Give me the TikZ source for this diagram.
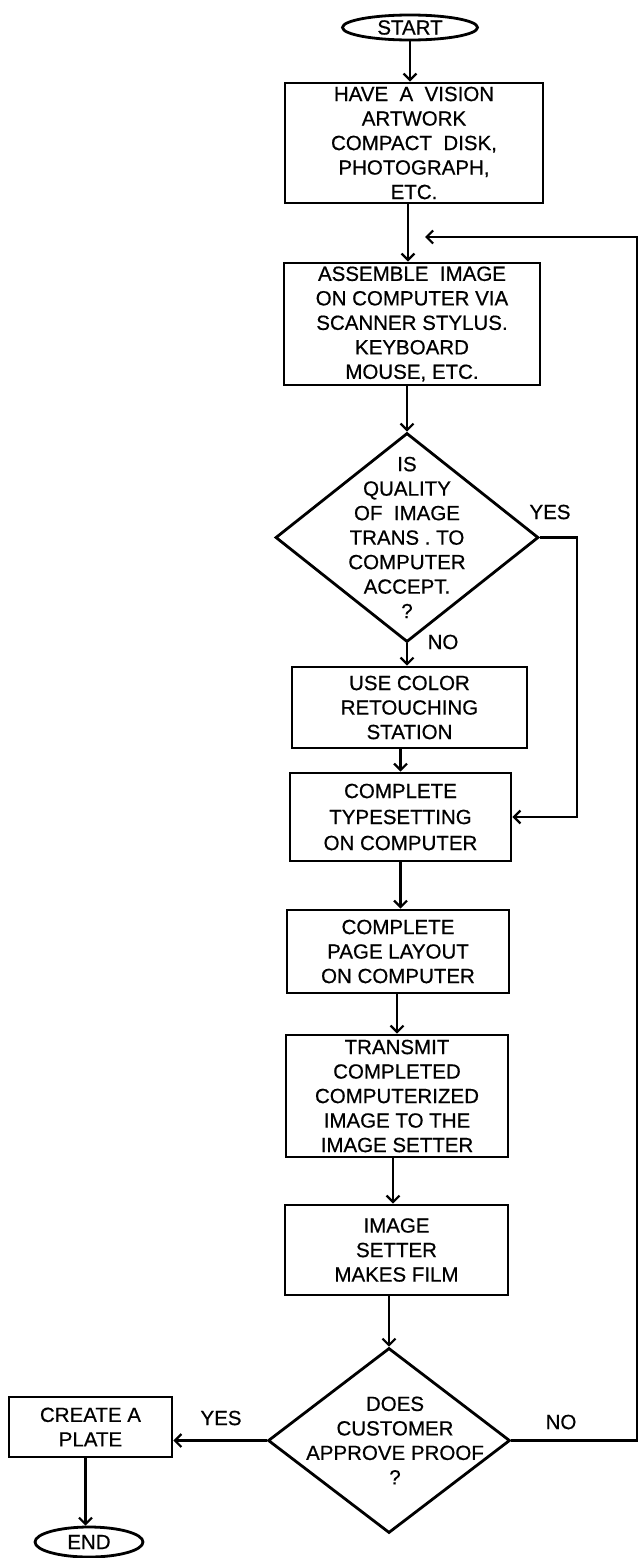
\documentclass[tikz,border=0pt]{standalone}
\usepackage{fontspec}
\setmainfont[FakeBold=0.6]{Liberation Sans}
\usetikzlibrary{shapes.geometric,arrows.meta}
\begin{document}
\begin{tikzpicture}[x=1pt,y=-1pt,
  font=\fontsize{20.5}{24.5}\selectfont,
  box/.style={draw, line width=2.8pt, rectangle, align=center, inner sep=0pt},
  dia/.style={draw, line width=2.8pt, diamond, inner sep=0pt},
  term/.style={draw, line width=2.8pt, ellipse, inner sep=0pt},
  arr/.style={line width=2.2pt, -{Straight Barb[length=6.5pt,width=13pt]}},
  lbl/.style={inner sep=0pt, align=center}]
\useasboundingbox (0,0) rectangle (640,1558);
% terminals
\node[term, minimum width=135pt, minimum height=25pt] (start) at (410,27.5) {START};
\node[term, minimum width=108pt, minimum height=30pt] (end) at (89,1542) {END};
% boxes
\node[box, minimum width=258pt, minimum height=120pt] (b1) at (414,143)
  {HAVE\ \ A\ \ VISION\\ARTWORK\\COMPACT\ \ DISK,\\PHOTOGRAPH,\\ETC.};
\node[box, minimum width=256pt, minimum height=122pt] (b2) at (412,324)
  {ASSEMBLE\ \ IMAGE\\ON COMPUTER VIA\\SCANNER STYLUS.\\KEYBOARD\\MOUSE, ETC.};
\node[box, minimum width=235pt, minimum height=81pt] (b3) at (409.5,707.5)
  {USE COLOR\\RETOUCHING\\STATION};
\node[box, minimum width=221pt, minimum height=88pt, font=\fontsize{20.5}{26}\selectfont] (b4) at (400.5,817)
  {COMPLETE\\TYPESETTING\\ON COMPUTER};
\node[box, minimum width=222pt, minimum height=83pt] (b5) at (398,951.5)
  {COMPLETE\\PAGE LAYOUT\\ON COMPUTER};
\node[box, minimum width=222pt, minimum height=122pt] (b6) at (397,1096)
  {TRANSMIT\\COMPLETED\\COMPUTERIZED\\IMAGE TO THE\\IMAGE SETTER};
\node[box, minimum width=223pt, minimum height=90pt] (b7) at (396.5,1250)
  {IMAGE\\SETTER\\MAKES FILM};
\node[box, minimum width=163pt, minimum height=60pt] (b8) at (90.5,1427)
  {CREATE A\\PLATE};
% decisions
\node[dia, minimum width=263pt, minimum height=209pt] (d1) at (407,537.5) {};
\node[lbl] (d1t) at (d1.center)
  {IS\\QUALITY\\OF\ \ IMAGE\\TRANS . TO\\COMPUTER\\ACCEPT.\\?};
\node[dia, minimum width=242pt, minimum height=185pt] (d2) at (389,1440.5) {};
\node[lbl] (d2t) at ([xshift=6pt]d2.center)
  {DOES\\CUSTOMER\\APPROVE PROOF\\?};
% labels
\node[lbl] (yes1) at (550,512) {YES};
\node[lbl] (no1) at (443,642) {NO};
\node[lbl] (yes2) at (221,1418) {YES};
\node[lbl] (no2) at (561,1422) {NO};
% helper coordinates
\coordinate (yesc) at (577,817);
\coordinate (loopc) at (637,237);
\coordinate (looptip) at (425,237);
% connectors
\draw[arr] (start.south) -- (start.south |- b1.north);
\draw[arr] ([xshift=-6pt]b1.south) -- ([xshift=-6pt]b1.south |- b2.north);
\draw[arr] (d1.north |- b2.south) -- (d1.north);
\draw[arr] (d1.south) -- (d1.south |- b3.north);
\draw[arr] (b4.north |- b3.south) -- (b4.north);
\draw[arr] (b4.south) -- (b4.south |- b5.north);
\draw[arr] (b6.north |- b5.south) -- (b6.north);
\draw[arr] ([xshift=-4pt]b6.south) -- ([xshift=-4pt]b6.south |- b7.north);
\draw[arr] (d2.north |- b7.south) -- (d2.north);
\draw[arr] (d2.west) -- (d2.west -| b8.east);
\draw[arr] ([xshift=-5pt]b8.south) -- ([xshift=-5pt]b8.south |- end.north);
\draw[arr] (d1.east) -| (yesc) -- (b4.east);
\draw[arr] (d2.east) -| (loopc) -- (looptip);
\end{tikzpicture}
\end{document}
